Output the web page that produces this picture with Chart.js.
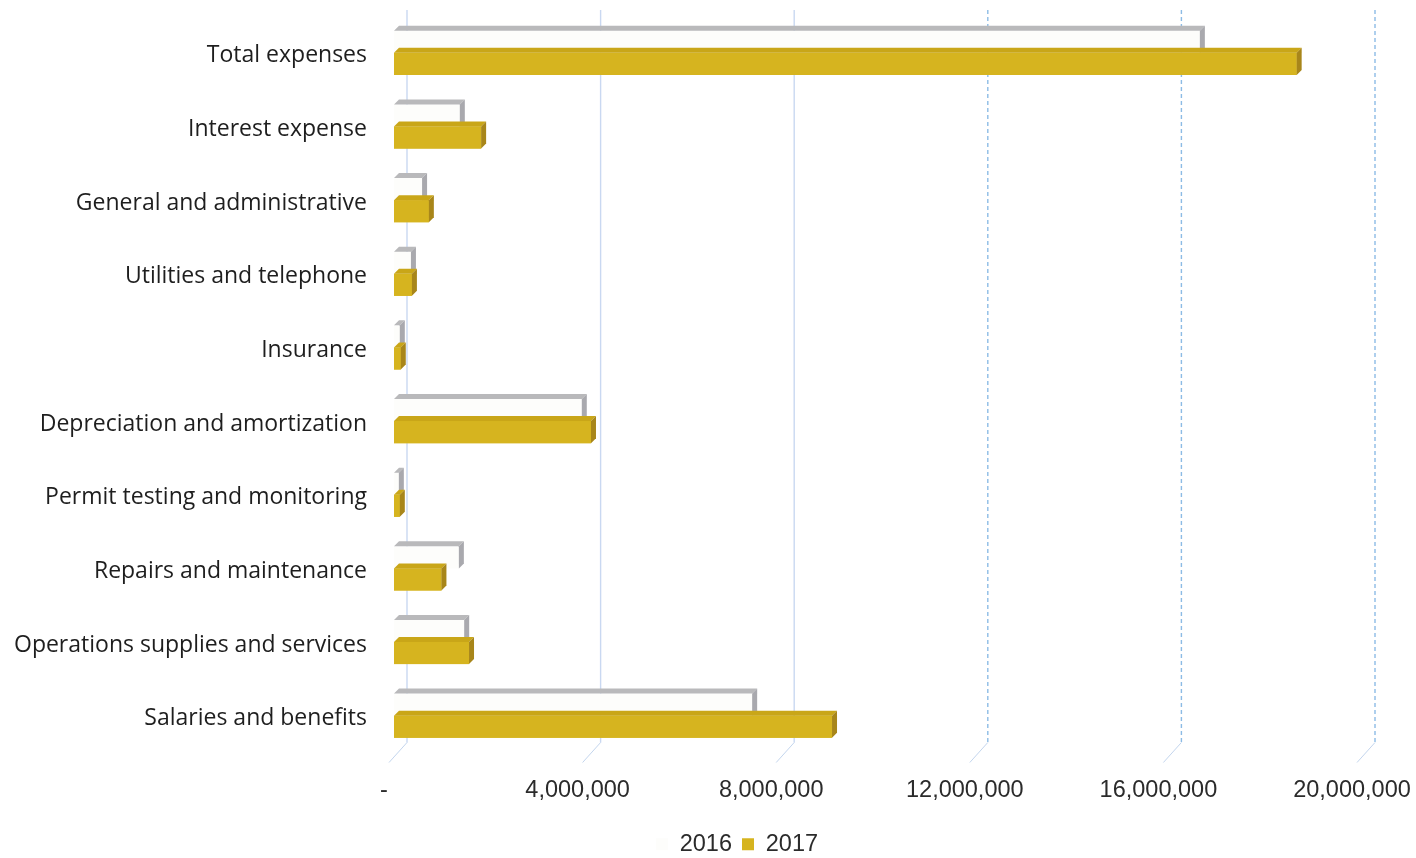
<!DOCTYPE html>
<html>
<head>
<meta charset="utf-8">
<title>Expenses 2016 vs 2017</title>
<script src="https://cdn.jsdelivr.net/npm/chart.js@4.4.1/dist/chart.umd.min.js"></script>
<style>
  html, body { margin: 0; padding: 0; background: #ffffff; }
  #wrap { width: 1416px; height: 858px; position: relative; }
</style>
</head>
<body>
<div id="wrap"><canvas id="chart"></canvas></div>
<script>
// Expense categories, listed top to bottom
const categories = [
  'Total expenses',
  'Interest expense',
  'General and administrative',
  'Utilities and telephone',
  'Insurance',
  'Depreciation and amortization',
  'Permit testing and monitoring',
  'Repairs and maintenance',
  'Operations supplies and services',
  'Salaries and benefits'
];

const values2016 = [16650000, 1360000, 580000, 350000, 120000, 3880000, 100000, 1340000, 1450000, 7400000];
const values2017 = [18650000, 1800000, 720000, 370000, 140000, 4070000, 120000, 980000, 1550000, 9050000];

const seriesNames = ['2016', '2017'];
const xTickValues = [0, 4000000, 8000000, 12000000, 16000000, 20000000];

// Colours for the bar faces: front, top, side
const faceColors = [
  { front: '#fdfdfb', top: '#b9b9bb', side: '#a9a9ae' },
  { front: '#d6b41f', top: '#c9a618', side: '#a8861a' }
];

const DEPTH_X = 5;
const DEPTH_Y = 5;
const WALL_SHIFT = 13;

function fmtAxis(v) {
  if (v === 0) return '-';
  return Number(v).toLocaleString('en-US');
}

// Back-wall grid lines with a short floor edge running toward the viewer
const wallGrid = {
  id: 'wallGrid',
  beforeDatasetsDraw(chart) {
    const { ctx, chartArea } = chart;
    const xs = chart.scales.x;
    ctx.save();
    xs.ticks.forEach(t => {
      const xb = xs.getPixelForValue(t.value) + WALL_SHIFT;
      const bottomBack = chartArea.bottom - 10;
      const strong = t.value >= 12000000;
      ctx.strokeStyle = strong ? 'rgba(120,175,225,0.85)' : '#c9d8f1';
      ctx.lineWidth = 1.4;
      ctx.setLineDash(strong ? [4, 3] : []);
      ctx.beginPath();
      ctx.moveTo(xb, chartArea.top - 6);
      ctx.lineTo(xb, bottomBack);
      ctx.stroke();
      ctx.setLineDash([]);
      ctx.strokeStyle = 'rgba(170,195,230,0.7)';
      ctx.lineWidth = 1;
      ctx.beginPath();
      ctx.moveTo(xb, bottomBack);
      ctx.lineTo(xb - 18, bottomBack + 20);
      ctx.stroke();
    });
    ctx.restore();
  }
};

// Top and side faces give each bar its depth; the 2017 faces go on last
const barDepth = {
  id: 'barDepth',
  afterDatasetsDraw(chart) {
    const { ctx } = chart;
    ctx.save();
    [0, 1].forEach(di => {
      const meta = chart.getDatasetMeta(di);
      const faces = faceColors[di];
      meta.data.forEach(el => {
        const p = el.getProps(['x', 'y', 'base', 'height'], true);
        const x0 = Math.min(p.base, p.x);
        const x1 = Math.max(p.base, p.x);
        const yt = p.y - p.height / 2;
        const yb = p.y + p.height / 2;
        if (di === 1) {
          ctx.fillStyle = faces.front;
          ctx.fillRect(x0, yt, x1 - x0, yb - yt);
        }
        ctx.fillStyle = faces.top;
        ctx.beginPath();
        ctx.moveTo(x0, yt);
        ctx.lineTo(x0 + DEPTH_X, yt - DEPTH_Y);
        ctx.lineTo(x1 + DEPTH_X, yt - DEPTH_Y);
        ctx.lineTo(x1, yt);
        ctx.closePath();
        ctx.fill();
        ctx.fillStyle = faces.side;
        ctx.beginPath();
        ctx.moveTo(x1, yt);
        ctx.lineTo(x1 + DEPTH_X, yt - DEPTH_Y);
        ctx.lineTo(x1 + DEPTH_X, yb - DEPTH_Y);
        ctx.lineTo(x1, yb);
        ctx.closePath();
        ctx.fill();
      });
    });
    ctx.restore();
  }
};

// Nudge the legend to sit under the middle of the plot
const legendShift = {
  id: 'legendShift',
  afterLayout(chart) {
    const lg = chart.legend;
    if (lg) { lg.left += 56; lg.right += 56; }
  }
};

const catFont = { family: "'Open Sans', 'Noto Sans', sans-serif", size: 23 };
const numFont = { family: "'Liberation Sans', Arial, sans-serif", size: 23.5 };

new Chart(document.getElementById('chart'), {
  type: 'bar',
  data: {
    labels: categories,
    datasets: [
      {
        label: seriesNames[0],
        data: values2016,
        backgroundColor: faceColors[0].front,
        borderWidth: 0
      },
      {
        label: seriesNames[1],
        data: values2017,
        backgroundColor: faceColors[1].front,
        borderWidth: 0
      }
    ]
  },
  options: {
    indexAxis: 'y',
    responsive: true,
    maintainAspectRatio: false,
    animation: false,
    categoryPercentage: 0.6,
    barPercentage: 1.0,
    layout: { padding: { left: 0, right: 54, top: 16, bottom: -8 } },
    scales: {
      x: {
        type: 'linear',
        min: 0,
        max: 20000000,
        afterBuildTicks(scale) {
          scale.ticks = xTickValues.map(v => ({ value: v }));
        },
        afterFit(scale) {
          scale.height = 70;
          scale.paddingLeft = 0;
          scale.paddingRight = 0;
        },
        grid: { display: false, drawTicks: false },
        border: { display: false },
        ticks: {
          callback: v => fmtAxis(v),
          font: numFont,
          color: '#2b2b2b',
          padding: 24,
          labelOffset: -10,
          maxRotation: 0,
          autoSkip: false
        }
      },
      y: {
        type: 'category',
        afterFit(scale) {
          scale.width = 394;
          scale.paddingTop = 0;
          scale.paddingBottom = 0;
        },
        grid: { display: false, drawTicks: false },
        border: { display: false },
        ticks: {
          font: catFont,
          color: '#1e1e1e',
          padding: 27,
          labelOffset: 3,
          autoSkip: false
        }
      }
    },
    plugins: {
      legend: {
        position: 'bottom',
        labels: {
          font: numFont,
          color: '#2b2b2b',
          boxWidth: 12,
          boxHeight: 12,
          padding: 10
        }
      },
      tooltip: { enabled: false }
    }
  },
  plugins: [wallGrid, barDepth, legendShift]
});
</script>
</body>
</html>
